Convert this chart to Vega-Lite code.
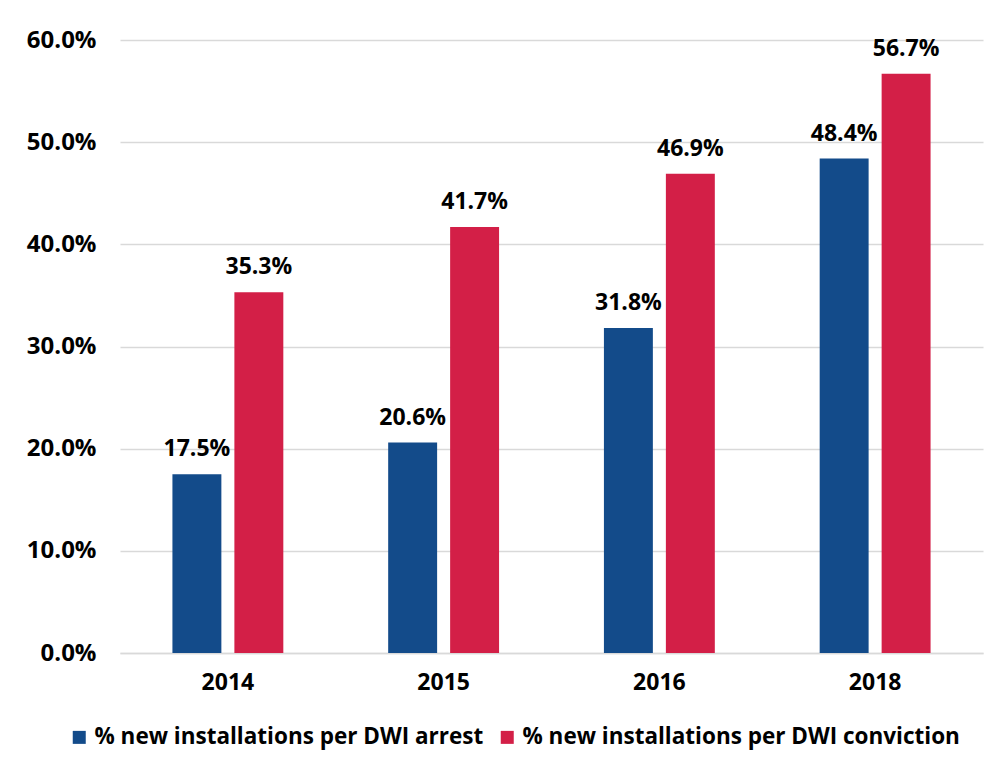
{
  "$schema": "https://vega.github.io/schema/vega-lite/v6.json",
  "width": 863,
  "height": 613,
  "autosize": "none",
  "padding": {"left": 120, "top": 40, "right": 19, "bottom": 116},
  "background": "white",
  "config": {
    "view": {"stroke": null},
    "font": "Open Sans"
  },
  "data": {
    "values": [
      {"year": "2014", "series": "% new installations per DWI arrest", "value": 0.175},
      {"year": "2014", "series": "% new installations per DWI conviction", "value": 0.353},
      {"year": "2015", "series": "% new installations per DWI arrest", "value": 0.206},
      {"year": "2015", "series": "% new installations per DWI conviction", "value": 0.417},
      {"year": "2016", "series": "% new installations per DWI arrest", "value": 0.318},
      {"year": "2016", "series": "% new installations per DWI conviction", "value": 0.469},
      {"year": "2018", "series": "% new installations per DWI arrest", "value": 0.484},
      {"year": "2018", "series": "% new installations per DWI conviction", "value": 0.567}
    ]
  },
  "encoding": {
    "x": {
      "field": "year",
      "type": "nominal",
      "scale": {"paddingInner": 0.486, "paddingOuter": 0.243},
      "axis": {
        "title": null,
        "labelAngle": 0,
        "labelFontSize": 23,
        "labelFontWeight": "bold",
        "labelColor": "#000000",
        "labelPadding": 18,
        "ticks": false,
        "domainColor": "#d9d9d9",
        "domainWidth": 1.5
      }
    },
    "xOffset": {
      "field": "series",
      "type": "nominal",
      "scale": {"paddingInner": 0.21, "paddingOuter": 0}
    },
    "y": {
      "field": "value",
      "type": "quantitative",
      "scale": {"domain": [0, 0.6]},
      "axis": {
        "title": null,
        "format": ".1%",
        "values": [0, 0.1, 0.2, 0.3, 0.4, 0.5, 0.6],
        "labelFontSize": 24,
        "labelFontWeight": "bold",
        "labelColor": "#000000",
        "labelPadding": 24,
        "ticks": false,
        "domain": false,
        "gridColor": "#d9d9d9",
        "gridWidth": 1.5
      }
    },
    "color": {
      "field": "series",
      "type": "nominal",
      "scale": {"range": ["#134b8a", "#d31f47"]},
      "legend": {
        "title": null,
        "orient": "none",
        "direction": "horizontal",
        "legendX": -52,
        "legendY": 686,
        "padding": 0,
        "symbolType": "square",
        "symbolSize": 169,
        "symbolStrokeWidth": 0,
        "symbolOpacity": 1,
        "labelFontSize": 22.5,
        "labelFontWeight": "bold",
        "labelColor": "#000000",
        "labelOffset": 4,
        "columnPadding": 12,
        "labelLimit": 600
      }
    }
  },
  "layer": [
    {"mark": {"type": "bar"}},
    {
      "mark": {"type": "text", "dy": -18, "baseline": "alphabetic", "fontSize": 23, "fontWeight": "bold", "color": "#000000"},
      "encoding": {
        "text": {"field": "value", "type": "quantitative", "format": ".1%"},
        "color": {"value": "#000000"}
      }
    }
  ]
}
